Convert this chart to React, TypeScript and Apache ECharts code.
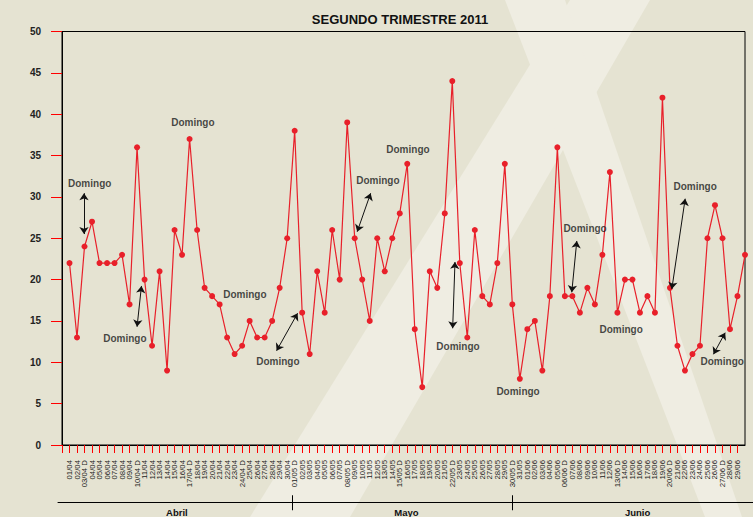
import { useEffect, useRef } from "react";
import * as echarts from "echarts";

const dayLabels = [
  "01/04", "02/04", "03/04 D", "04/04", "05/04", "06/04", "07/04", "08/04", "09/04", "10/04 D",
  "11/04", "12/04", "13/04", "14/04", "15/04", "16/04", "17/04 D", "18/04", "19/04", "20/04",
  "21/04", "22/04", "23/04", "24/04 D", "25/04", "26/04", "27/04", "28/04", "29/04", "30/04",
  "01/05 D", "02/05", "03/05", "04/05", "05/05", "06/05", "07/05", "08/05 D", "09/05", "10/05",
  "11/05", "12/05", "13/05", "14/05", "15/05 D", "16/05", "17/05", "18/05", "19/05", "20/05",
  "21/05", "22/05 D", "23/05", "24/05", "25/05", "26/05", "27/05", "28/05", "29/05", "30/05 D",
  "31/05", "01/06", "02/06", "03/06", "04/06", "05/06", "06/06 D", "07/06", "08/06", "09/06",
  "10/06", "11/06", "12/06", "13/06 D", "14/06", "15/06", "16/06", "17/06", "18/06", "19/06",
  "20/06 D", "21/06", "22/06", "23/06", "24/06", "25/06", "26/06", "27/06 D", "28/06", "29/06",
  "30/06",
];

const aprilValues = [22, 13, 24, 27, 22, 22, 22, 23, 17, 36, 20, 12, 21, 9, 26, 23, 37, 26, 19, 18, 17, 13, 11, 12, 15, 13, 13, 15, 19, 25];
const mayValues = [38, 16, 11, 21, 16, 26, 20, 39, 25, 20, 15, 25, 21, 25, 28, 34, 14, 7, 21, 19, 28, 44, 22, 13, 26, 18, 17, 22, 34, 17, 8];
const juneValues = [14, 15, 9, 18, 36, 18, 18, 16, 19, 17, 23, 33, 16, 20, 20, 16, 18, 16, 42, 19, 12, 9, 11, 12, 25, 29, 25, 14, 18, 23];

const monthNames = ["Abril", "Mayo", "Junio"];
const monthLabelPos = [15.3, 45.9, 76.7];
const monthBreaks = [30.7, 60.05];

const noteText = "Domingo";
const notePositions = [
  [3.69, 31.68], [8.37, 12.82], [17.43, 38.94], [24.36, 18.14], [28.76, 10.04],
  [42.09, 32.04], [46.09, 35.79], [52.76, 11.97], [60.76, 6.41], [69.69, 26.12],
  [74.49, 13.91], [84.36, 31.2], [87.96, 10.04],
];
const noteArrows = [
  [[2.93, 30.44], [2.93, 25.51]],
  [[10.0, 14.3], [10.59, 19.23]],
  [[28.59, 11.4], [31.39, 15.93]],
  [[39.33, 25.79], [41.12, 30.44]],
  [[52.05, 14.11], [52.36, 22.13]],
  [[67.92, 18.46], [68.59, 24.67]],
  [[81.25, 18.86], [83.03, 29.78]],
  [[86.8, 10.97], [88.36, 13.58]],
];

export default function App() {
  const ref = useRef<HTMLDivElement>(null);

  useEffect(() => {
    const chart = echarts.init(ref.current!, null, { renderer: "svg" });
    const values = [...aprilValues, ...mayValues, ...juneValues];
    const font = "'Liberation Sans', Arial, sans-serif";
    const bandColor = "#EFEDE2";
    const monthMin = -0.533;
    const monthMax = 92.07;

    chart.setOption({
      animation: false,
      backgroundColor: "#E5E3D2",
      textStyle: { fontFamily: font },
      title: {
        text: "SEGUNDO TRIMESTRE 2011",
        left: 395,
        top: 8,
        textAlign: "center",
        textStyle: { fontSize: 13, fontWeight: "bold", color: "#111", fontFamily: font },
      },
      graphic: [
        {
          type: "polygon",
          z: -10,
          silent: true,
          shape: { points: [[250, 517], [350, 517], [650, 0], [570, 0]] },
          style: { fill: bandColor },
        },
        {
          type: "polygon",
          z: -10,
          silent: true,
          shape: { points: [[505, 0], [565, 0], [742, 517], [705, 517]] },
          style: { fill: bandColor },
        },
      ],
      grid: [
        {
          left: 62,
          right: 8,
          top: 31.5,
          bottom: 72,
          show: true,
          borderColor: "#000",
          borderWidth: 1,
          backgroundColor: "transparent",
        },
        { left: 58, right: 0, top: 502, height: 1, show: false },
      ],
      xAxis: [
        {
          type: "value",
          gridIndex: 0,
          min: 0,
          max: 91,
          interval: 1,
          axisLine: { show: true, lineStyle: { color: "#000", width: 1 } },
          axisTick: { show: true, length: 8, lineStyle: { color: "#FF0000", width: 1 } },
          axisLabel: {
            rotate: 90,
            margin: 15,
            fontSize: 7.8,
            color: "#1a1a1a",
            fontFamily: font,
            formatter: (v: number) => (v >= 1 ? dayLabels[Math.round(v) - 1] ?? "" : ""),
          },
          splitLine: { show: false },
        },
        {
          type: "value",
          gridIndex: 1,
          min: monthMin,
          max: monthMax,
          position: "bottom",
          axisLine: { show: true, lineStyle: { color: "#000", width: 1 } },
          axisTick: { show: true, length: 8, customValues: monthBreaks, lineStyle: { color: "#000", width: 1 } },
          axisLabel: {
            customValues: monthLabelPos,
            margin: 5,
            fontSize: 9.5,
            fontWeight: "bold",
            color: "#111",
            fontFamily: font,
            formatter: (v: number) => {
              let best = 0;
              monthLabelPos.forEach((p, i) => {
                if (Math.abs(p - v) < Math.abs(monthLabelPos[best] - v)) best = i;
              });
              return monthNames[best];
            },
          },
          splitLine: { show: false },
        },
        {
          type: "value",
          gridIndex: 1,
          min: monthMin,
          max: monthMax,
          position: "bottom",
          axisLine: { show: false },
          axisTick: { show: true, inside: true, length: 7, customValues: monthBreaks, lineStyle: { color: "#000", width: 1 } },
          axisLabel: { show: false },
          splitLine: { show: false },
        },
      ],
      yAxis: [
        {
          type: "value",
          gridIndex: 0,
          min: 0,
          max: 50,
          interval: 5,
          axisLine: { show: true, lineStyle: { color: "#000", width: 1 } },
          axisTick: { show: true, length: 11, lineStyle: { color: "#FF0000", width: 1 } },
          axisLabel: { fontSize: 10, fontWeight: "bold", color: "#222", margin: 21, fontFamily: font },
          splitLine: { show: false },
        },
        { type: "value", gridIndex: 1, min: 0, max: 1, show: false },
      ],
      series: [
        {
          type: "line",
          xAxisIndex: 0,
          yAxisIndex: 0,
          data: values.map((v, i) => [i + 1, v]),
          symbol: "circle",
          symbolSize: 6,
          itemStyle: { color: "#E8202A" },
          lineStyle: { color: "#E8202A", width: 1.2 },
          z: 3,
          markLine: {
            silent: true,
            symbol: ["arrow", "arrow"],
            symbolSize: 7,
            lineStyle: { color: "#111", width: 1, type: "solid" },
            label: { show: false },
            emphasis: { disabled: true },
            data: noteArrows.map(([a, b]) => [{ coord: a }, { coord: b }]),
          },
        },
        {
          type: "scatter",
          xAxisIndex: 0,
          yAxisIndex: 0,
          data: notePositions,
          symbolSize: 1,
          itemStyle: { color: "rgba(0,0,0,0)" },
          silent: true,
          z: 4,
          label: {
            show: true,
            position: "inside",
            formatter: noteText,
            fontSize: 10,
            fontWeight: "bold",
            color: "#1a1a1a",
            fontFamily: font,
          },
        },
      ],
    });

    return () => chart.dispose();
  }, []);

  return (
    <div
      ref={ref}
      style={{ position: "fixed", left: 0, top: 0, width: 753, height: 517 }}
    />
  );
}
